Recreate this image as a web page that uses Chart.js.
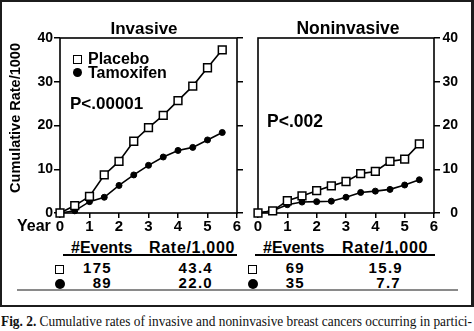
<!DOCTYPE html>
<html>
<head>
<meta charset="utf-8">
<script src="https://cdn.jsdelivr.net/npm/chart.js@4.4.0/dist/chart.umd.min.js"></script>
<style>
  html, body { margin: 0; padding: 0; background: #fff; }
  body { width: 474px; height: 331px; position: relative; overflow: hidden;
         font-family: "Liberation Sans", Arial, sans-serif; font-weight: bold; color: #000; }
  .frame { position: absolute; left: 0; top: 0; width: 474px; height: 307px; box-sizing: border-box;
           border: 2.5px solid #1c1c1c; border-right-width: 3px; }
  canvas { position: absolute; top: 0; }
  .t { position: absolute; white-space: nowrap; line-height: 1; }
  .c { text-align: center; }
  .r { text-align: right; }
  .sq { position: absolute; box-sizing: border-box; border: 1.6px solid #000; background: #fff; }
  .dot { position: absolute; border-radius: 50%; background: #000; }
  .rule { position: absolute; background: #000; height: 2px; }
  .caption { position: absolute; left: 1px; top: 314px; font-family: "Liberation Serif", "Times New Roman", serif;
             font-weight: normal; font-size: 15px; line-height: 1; white-space: nowrap; transform-origin: 0 0; color: #111; }
</style>
</head>
<body>
<div class="frame"></div>
<canvas id="chart_invasive" width="247" height="235" style="left:0px"></canvas>
<canvas id="chart_noninvasive" width="207" height="235" style="left:251px"></canvas>

<div class="t c" style="left:94px; width:100px; top:19.8px; font-size:17px">Invasive</div>
<div class="t c" style="left:288px; width:120px; top:19.7px; font-size:17.5px">Noninvasive</div>

<div class="sq" style="left:73px; top:55px; width:9px; height:9px"></div>
<div class="t" style="left:88px; top:50.9px; font-size:16px">Placebo</div>
<div class="dot" style="left:73px; top:68px; width:9px; height:9px"></div>
<div class="t" style="left:88px; top:64.9px; font-size:16px">Tamoxifen</div>
<div class="t" style="left:70px; top:94.8px; font-size:17px">P&lt;.00001</div>
<div class="t" style="left:267px; top:112.7px; font-size:17.5px">P&lt;.002</div>

<div class="t c" style="left:-59px; width:150px; top:110px; font-size:14.5px; transform:rotate(-90deg); transform-origin:75px 8px">Cumulative Rate/1000</div>
<div class="t" style="left:17px; top:217.9px; font-size:16px">Year</div>

<div class="t" style="left:71px; top:239.6px; font-size:16px">#Events</div>
<div class="t" style="left:149px; top:239.6px; font-size:16px; letter-spacing:0.7px">Rate/1,000</div>
<div class="t" style="left:263px; top:239.6px; font-size:16px">#Events</div>
<div class="t" style="left:342px; top:239.6px; font-size:16px; letter-spacing:0.7px">Rate/1,000</div>
<div class="rule" style="left:63px; width:174px; top:254px"></div>
<div class="rule" style="left:255px; width:180px; top:254px"></div>

<div class="sq" style="left:55px; top:265px; width:9px; height:9px"></div>
<div class="t r" style="left:62px; width:50px; top:260px; font-size:15px; letter-spacing:1.3px" id="ev1"></div>
<div class="t r" style="left:153px; width:60px; top:260px; font-size:15px; letter-spacing:1.3px" id="rt1"></div>
<div class="dot" style="left:55px; top:279px; width:10px; height:10px"></div>
<div class="t r" style="left:62px; width:50px; top:275px; font-size:15px; letter-spacing:1.3px" id="ev2"></div>
<div class="t r" style="left:153px; width:60px; top:275px; font-size:15px; letter-spacing:1.3px" id="rt2"></div>

<div class="sq" style="left:248px; top:265px; width:9px; height:9px"></div>
<div class="t r" style="left:255px; width:50px; top:260px; font-size:15px; letter-spacing:1.3px" id="ev3"></div>
<div class="t r" style="left:343px; width:60px; top:260px; font-size:15px; letter-spacing:1.3px" id="rt3"></div>
<div class="dot" style="left:248px; top:279px; width:10px; height:10px"></div>
<div class="t r" style="left:255px; width:50px; top:275px; font-size:15px; letter-spacing:1.3px" id="ev4"></div>
<div class="t r" style="left:341px; width:60px; top:275px; font-size:15px; letter-spacing:1.3px" id="rt4"></div>

<div style="position:absolute; left:17px; width:441px; top:289px; height:1.5px; background:#8a8a8a"></div>

<div class="caption" id="caption"><b>Fig. 2.</b> Cumulative rates of invasive and noninvasive breast cancers occurring in partici-</div>

<script>
// years of follow-up
const years = [0, 0.5, 1, 1.5, 2, 2.5, 3, 3.5, 4, 4.5, 5, 5.5];
// cumulative rate per 1000
const invasivePlacebo = [0, 1.7, 3.8, 8.7, 11.8, 16.4, 19.5, 22.3, 25.7, 29.0, 33.2, 37.3];
const invasiveTamoxifen = [0, 0.5, 2.6, 3.6, 6.3, 8.7, 10.9, 12.8, 14.3, 15.0, 16.7, 18.4];
const noninvasivePlacebo = [0, 0.5, 2.8, 3.9, 5.1, 6.2, 7.2, 9.0, 9.5, 11.8, 12.3, 15.8];
const noninvasiveTamoxifen = [0, 0.5, 1.9, 2.5, 2.6, 2.7, 3.6, 4.7, 5.0, 5.4, 6.4, 7.6];

const xTicks = [0, 1, 2, 3, 4, 5, 6];
const yTicks = [0, 10, 20, 30, 40];

// summary table
const eventsPlacebo = [175, 69];
const eventsTamoxifen = [89, 35];
const ratePlacebo = ['43.4', '15.9'];
const rateTamoxifen = ['22.0', '7.7'];

document.getElementById('ev1').textContent = eventsPlacebo[0];
document.getElementById('rt1').textContent = ratePlacebo[0];
document.getElementById('ev2').textContent = eventsTamoxifen[0];
document.getElementById('rt2').textContent = rateTamoxifen[0];
document.getElementById('ev3').textContent = eventsPlacebo[1];
document.getElementById('rt3').textContent = ratePlacebo[1];
document.getElementById('ev4').textContent = eventsTamoxifen[1];
document.getElementById('rt4').textContent = rateTamoxifen[1];

// squeeze caption to the page width
const cap = document.getElementById('caption');
cap.style.transform = `scaleX(${471 / cap.scrollWidth})`;

const boxPlugin = {
    id: 'box',
    beforeDatasetsDraw(chart) {
        const a = chart.chartArea;
        const ctx = chart.ctx;
        ctx.save();
        ctx.strokeStyle = '#000';
        ctx.lineWidth = 1.6;
        ctx.strokeRect(a.left, a.top, a.right - a.left, a.bottom - a.top);
        ctx.restore();
    }
};

const tickFont = { family: 'Liberation Sans', size: 14, weight: 'bold' };

const createChart = (id, placebo, tamoxifen, labelsRight) => {
    const pts = (vals) => years.map((x, i) => ({ x: x, y: vals[i] }));
    const yScale = (pos, showLabels, width) => ({
        type: 'linear',
        position: pos,
        min: 0,
        max: 40,
        afterBuildTicks: s => { s.ticks = yTicks.map(v => ({ value: v })); },
        ticks: { display: showLabels, color: '#000', font: tickFont, padding: 1, crossAlign: pos === 'right' ? 'far' : 'near' },
        grid: { drawOnChartArea: false, drawTicks: true, tickLength: 6, color: '#000', lineWidth: 1.5 },
        border: { display: false },
        afterFit: s => { s.width = width; }
    });

    const scales = {
        x: {
            type: 'linear',
            min: 0,
            max: 6,
            afterBuildTicks: s => { s.ticks = xTicks.map(v => ({ value: v })); },
            ticks: { color: '#000', font: { family: 'Liberation Sans', size: 15, weight: 'bold' }, padding: 0, maxRotation: 0 },
            grid: { drawOnChartArea: false, drawTicks: true, tickLength: 5, color: '#000', lineWidth: 1.5 },
            border: { display: false },
            afterFit: s => { s.height = 22; }
        }
    };
    if (labelsRight) {
        scales.y = yScale('right', true, 24);
    } else {
        scales.y = yScale('left', true, 60);
        scales.y2 = yScale('right', false, 10);
    }

    return new Chart(document.getElementById(id), {
        type: 'line',
        data: {
            datasets: [
                {
                    label: 'Placebo',
                    data: pts(placebo),
                    borderColor: '#000',
                    borderWidth: 1.6,
                    pointStyle: 'rect',
                    pointRadius: 5.5,
                    pointBackgroundColor: '#fff',
                    pointBorderColor: '#000',
                    pointBorderWidth: 1.5,
                    clip: false
                },
                {
                    label: 'Tamoxifen',
                    data: pts(tamoxifen),
                    borderColor: '#000',
                    borderWidth: 1.6,
                    pointStyle: 'circle',
                    pointRadius: 3,
                    pointBackgroundColor: '#000',
                    pointBorderColor: '#000',
                    pointBorderWidth: 1,
                    clip: false
                }
            ]
        },
        options: {
            responsive: false,
            animation: false,
            devicePixelRatio: 1,
            layout: { padding: { top: 38, left: labelsRight ? 6 : 0, right: 0, bottom: 0 } },
            plugins: { legend: { display: false }, title: { display: false }, tooltip: { enabled: false } },
            scales: scales
        },
        plugins: [boxPlugin]
    });
};

createChart('chart_invasive', invasivePlacebo, invasiveTamoxifen, false);
createChart('chart_noninvasive', noninvasivePlacebo, noninvasiveTamoxifen, true);
</script>
</body>
</html>
